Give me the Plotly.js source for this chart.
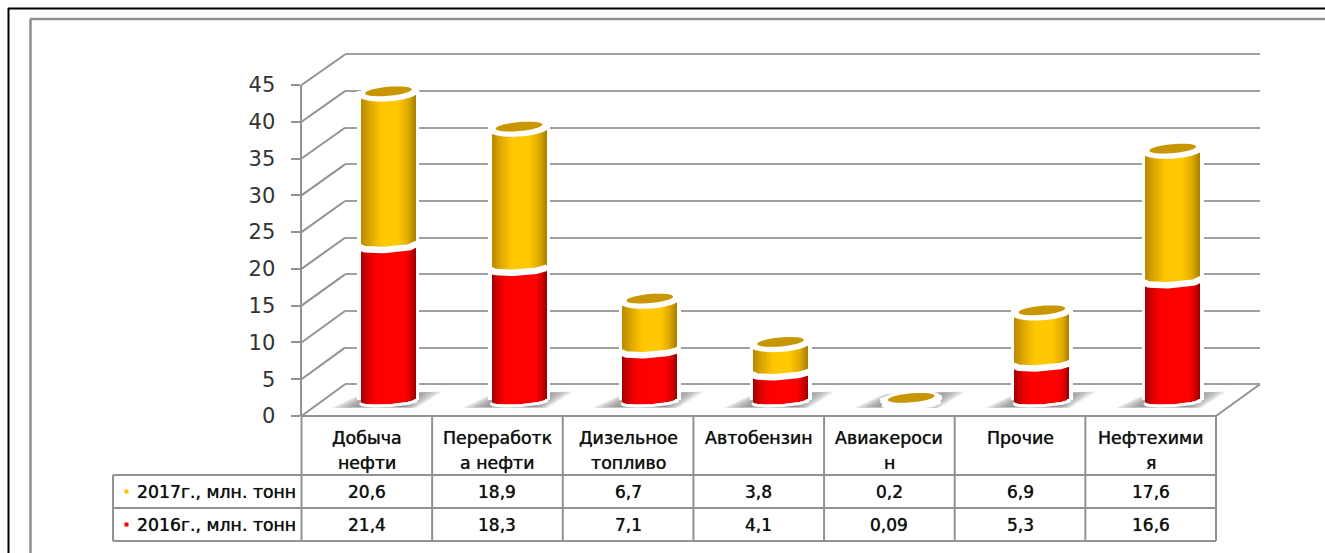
<!DOCTYPE html>
<html><head><meta charset="utf-8">
<script src="https://cdn.plot.ly/plotly-3.0.1.min.js"></script>
<style>html,body{margin:0;padding:0;background:#fff}#c{width:1325px;height:553px}</style></head>
<body><div id="c"></div>
<script>
// ---- data ----
const categories = ["Добыча|нефти","Переработк|а нефти","Дизельное|топливо","Автобензин","Авиакероси|н","Прочие","Нефтехими|я"];
const values2017 = [20.6,18.9,6.7,3.8,0.2,6.9,17.6];
const values2016 = [21.4,18.3,7.1,4.1,0.09,5.3,16.6];
const seriesNames = ["2017г., млн. тонн","2016г., млн. тонн"];
const yTicks = [0,5,10,15,20,25,30,35,40,45];

// ---- styling / geometry ----
const W=1325,H=553;
const GREY='#929292';
const LABEL_FONT='DejaVu Sans';
const TXT='#111';
const px2x=p=>p/W, px2y=p=>1-p/H;
const unitX=130.71, S=7.35;
const idx=categories.map((_,i)=>i);
const halfBar=27.5/unitX, halfHalo=31/unitX;
const redStops=[[-1,[165,0,0]],[-.75,[215,0,0]],[-.45,[252,0,0]],[.6,[255,0,0]],[.82,[210,0,0]],[1,[150,0,0]]];
const yelStops=[[-1,[185,138,0]],[-.65,[225,168,0]],[-.25,[255,200,0]],[.35,[255,200,0]],[.72,[225,170,0]],[1,[165,125,0]]];
function grad(st,t){for(let k=0;k<st.length-1;k++){if(t<=st[k+1][0]){const f=(t-st[k][0])/(st[k+1][0]-st[k][0]);
  const c=st[k][1].map((a,j)=>Math.round(a+(st[k+1][1][j]-a)*f));return `rgb(${c})`;}}return `rgb(${st[st.length-1][1]})`;}
const arc=(v,t,shift,b,tilt)=>v+(tilt*t-shift-b*Math.sqrt(Math.max(0,1-t*t)))/S;
const totals=idx.map(i=>values2016[i]+values2017[i]);

const traces=[];
// ---- wall subplot (xy): back-wall gridlines only ----
traces.push({type:'scatter',mode:'markers',x:[0],y:[0],xaxis:'x',yaxis:'y',marker:{opacity:0},hoverinfo:'skip',showlegend:false});
// ---- shadow subplot (x2y2): same scale as the bars, wider window ----
const shadowPts=[[-57,408],[-27,394],[54,391.5],[28,408]];
[1,.93,.86,.79,.72,.65,.58,.52].forEach(f=>{
  const xs=[],ys=[],fy=.72+.28*f;
  idx.forEach(i=>{
    shadowPts.forEach(q=>{xs.push(i+q[0]*f/unitX);ys.push(-(q[1]-400)*fy/S);});
    xs.push(null);ys.push(null);
  });
  traces.push({type:'scatter',mode:'none',fill:'toself',fillcolor:'rgba(105,105,105,0.15)',x:xs,y:ys,xaxis:'x2',yaxis:'y2',hoverinfo:'skip',showlegend:false});
});
// ---- bars subplot (x3y3) ----
const barBase={type:'bar',xaxis:'x3',yaxis:'y3',hoverinfo:'skip',showlegend:false,marker:{line:{width:0}}};
traces.push({...barBase,x:idx,y:totals,width:2*halfHalo,marker:{color:'#fff',line:{width:0}}});
traces.push({...barBase,name:seriesNames[1],x:idx,y:values2016,width:.36,marker:{color:'#f00',line:{width:0}}});
traces.push({...barBase,name:seriesNames[0],x:idx,y:values2017,base:values2016,width:.36,marker:{color:'#ffc800',line:{width:0}}});
const N=28;
for(let s=0;s<N;s++){
  const t0=-1+2*s/N, t=t0+1/N;
  const off=t0*halfBar, w=2*halfBar/N;
  const b0=idx.map(()=>arc(0,t,0,4,1.8));
  const mid=idx.map(i=>arc(values2016[i],t,2.6,4.5,1.65));
  traces.push({...barBase,x:idx,base:b0,y:idx.map(i=>Math.max(0,mid[i]-b0[i])),offset:off,width:w,marker:{color:grad(redStops,t),line:{width:0}}});
  traces.push({...barBase,x:idx,base:mid,y:idx.map(i=>Math.max(0,totals[i]-mid[i])),offset:off,width:w,marker:{color:grad(yelStops,t),line:{width:0}}});
}
function arcLine(vals,shift,b,tilt,ext){
  const xs=[],ys=[];
  idx.forEach(i=>{
    for(let k=-20;k<=20;k++){const t=k/20;xs.push(i+t*halfBar*ext);ys.push(arc(vals[i],t,shift,b,tilt));}
    xs.push(null);ys.push(null);
  });
  return {x:xs,y:ys};
}
function ellipse(vals,aPx,b,shift,tilt){
  const xs=[],ys=[],a=aPx/unitX;
  idx.forEach(i=>{
    for(let k=0;k<=48;k++){const th=k/48*2*Math.PI,c=Math.cos(th),sn=Math.sin(th);
      xs.push(i+a*c);ys.push(vals[i]+(tilt*c-shift+b*sn)/S);}
    xs.push(null);ys.push(null);
  });
  return {x:xs,y:ys};
}
const lineT={type:'scatter',mode:'lines',xaxis:'x3',yaxis:'y3',hoverinfo:'skip',showlegend:false};
traces.push({...lineT,...arcLine(idx.map(()=>0),1.6,4,1.8,1.04),line:{color:'#fff',width:3}});
traces.push({...lineT,...arcLine(values2016,2.6,4.5,1.65,1.04),line:{color:'#fff',width:6.5}});
traces.push({...lineT,...ellipse(totals,31,8.5,1.5,2),mode:'none',fill:'toself',fillcolor:'#fff'});
traces.push({...lineT,...ellipse(totals,23.3,4.5,0,2),mode:'none',fill:'toself',fillcolor:'#c89600'});
// ---- front axis subplot (x4y4) ----
traces.push({type:'scatter',mode:'markers',x:[0],y:[0],xaxis:'x4',yaxis:'y4',marker:{opacity:0},hoverinfo:'skip',showlegend:false});

// ---- shapes: frames, side wall, floor, table ----
const ln=(x0,y0,x1,y1,color=GREY,width=2)=>({type:'line',xref:'paper',yref:'paper',x0:px2x(x0),y0:px2y(y0),x1:px2x(x1),y1:px2y(y1),line:{color,width},layer:'below'});
const frontY=v=>416-v*(331/45), backY=v=>384.3-v*7.33;
const shapes=[
  ln(8,8.5,W,8.5,'#000',2), ln(8.5,8,8.5,H,'#000',2),
  ln(30,19,W,19,'#8e8e8e',2.5), ln(30.5,19,30.5,H,'#8e8e8e',2.5),
];
yTicks.forEach(v=>shapes.push(ln(301.5,frontY(v),345,backY(v))));
shapes.push(ln(301,416,1216,416), ln(1216,416,1260,384.3));
const colX=[0,1,2,3,4,5,6,7].map(i=>301.5+i*130.64);
colX.forEach(x=>shapes.push(ln(x,416,x,541)));
[475,508,541].forEach(y=>shapes.push(ln(113,y,1216,y)));
shapes.push(ln(113,475,113,541));
const keyColors=['#ffc000','#ff0000'];
const rowY=[491.5,524.5];
keyColors.forEach((c,r)=>shapes.push({type:'rect',xref:'paper',yref:'paper',x0:px2x(124.5),x1:px2x(128.5),y0:px2y(rowY[r]-2),y1:px2y(rowY[r]+2),fillcolor:c,line:{width:0}}));

// ---- annotations: table text ----
const ann=[];
const note=(text,xp,yp,size,anchor='center')=>ann.push({text,xref:'paper',yref:'paper',x:px2x(xp),y:px2y(yp),xanchor:anchor,yanchor:'middle',showarrow:false,font:{family:LABEL_FONT,size,color:TXT,shadow:'0 0 0.7px #222'},borderpad:0});
const comma=v=>String(v).replace('.',',');
idx.forEach(i=>{
  const cx=301.5+130.64*(i+.5);
  categories[i].split('|').forEach((part,l)=>note(part,cx,438+l*25,17.4));
  note(comma(values2017[i]),cx,rowY[0],17);
  note(comma(values2016[i]),cx,rowY[1],17);
});
seriesNames.forEach((n,r)=>note(n,135.5,rowY[r],17.3,'left'));

const dom=(a,b)=>[a/W,b/W], domY=(bottom,top)=>[1-bottom/H,1-top/H];
const hidden={visible:true,showgrid:false,zeroline:false,showline:false,showticklabels:false,ticks:'',fixedrange:true};
const layout={
  width:W,height:H,margin:{l:0,r:0,t:0,b:0},paper_bgcolor:'#fff',plot_bgcolor:'rgba(0,0,0,0)',
  barmode:'overlay',bargap:0,showlegend:false,shapes,annotations:ann,
  xaxis:{...hidden,domain:dom(345,1260),range:[-.5,6.5],anchor:'y'},
  yaxis:{...hidden,domain:domY(384.3+4*7.33,384.3-45.5*7.33),range:[-4,45.5],anchor:'x',showgrid:true,gridcolor:'#a0a0a0',gridwidth:2,tickmode:'array',tickvals:yTicks},
  xaxis2:{...hidden,domain:dom(323-unitX,1238+unitX*0.5),range:[-1.5,7],anchor:'y2'},
  yaxis2:{...hidden,domain:domY(400+4*S,400-46*S),range:[-4,46],anchor:'x2'},
  xaxis3:{...hidden,domain:dom(323,1238),range:[-.5,6.5],anchor:'y3'},
  yaxis3:{...hidden,domain:domY(400+4*S,400-46*S),range:[-4,46],anchor:'x3'},
  xaxis4:{...hidden,domain:dom(301.5,1216),range:[-.5,6.5],anchor:'y4'},
  yaxis4:{domain:domY(416,85),range:[0,45],anchor:'x4',fixedrange:true,showgrid:false,zeroline:false,showline:true,linecolor:GREY,linewidth:2,
    ticks:'outside',ticklen:9,tickwidth:2,tickcolor:GREY,tickmode:'array',tickvals:yTicks,ticktext:yTicks.map(String),ticklabelstandoff:11,
    tickfont:{family:LABEL_FONT,size:21,color:'#333'}}
};
Plotly.newPlot('c',traces,layout,{displayModeBar:false,staticPlot:true});
</script></body></html>
